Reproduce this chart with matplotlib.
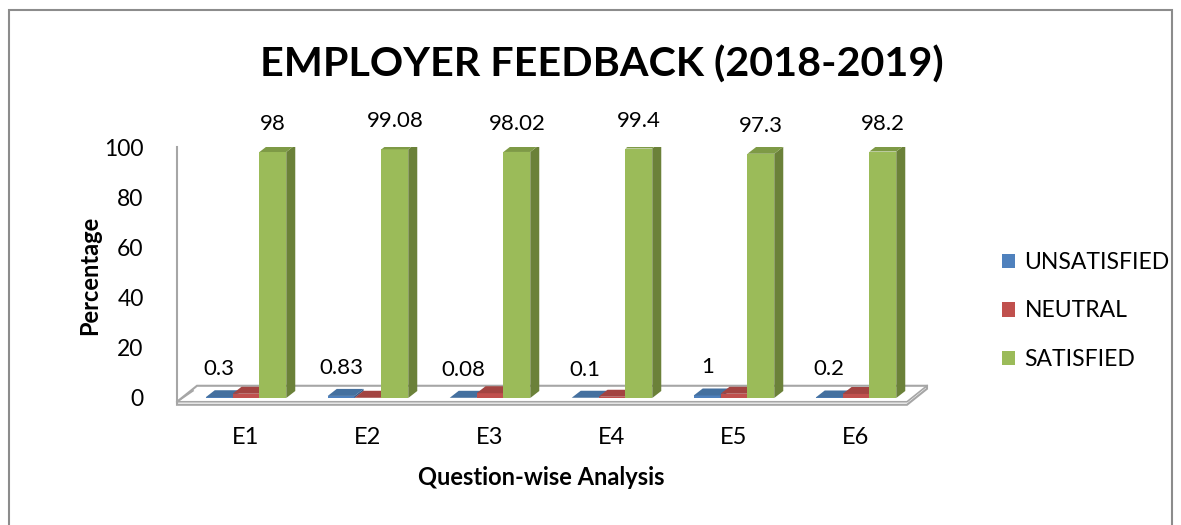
import matplotlib
matplotlib.use("Agg")
import matplotlib.pyplot as plt
from matplotlib.patches import Polygon, Rectangle

plt.rcParams['font.family'] = ['Lato', 'DejaVu Sans']

questions = ["E1", "E2", "E3", "E4", "E5", "E6"]
unsatisfied = [0.3, 0.83, 0.08, 0.1, 1, 0.2]
neutral = [1.7, 0.09, 1.9, 0.5, 1.7, 1.6]
satisfied = [98, 99.08, 98.02, 99.4, 97.3, 98.2]

series = [("UNSATISFIED", unsatisfied, "#4F81BD", "#385D8A", "#44709F"),
          ("NEUTRAL", neutral, "#C0504D", "#8C3836", "#A34441"),
          ("SATISFIED", satisfied, "#9BBB59", "#6B8139", "#7E9A46")]

W, H = 1181, 525
fig = plt.figure(figsize=(W / 100, H / 100), dpi=100)

# frame round the chart
fig.add_artist(Rectangle((9 / W, -0.1), (1172 - 9) / W, 1.1 - 10 / H, transform=fig.transFigure,
                         fill=False, edgecolor="#8c8c8c", linewidth=1.5))

# axes: y=0 at 398 px, y=100 at 147 px, x=0 at 246 px, 122 px per category
px_unit = (398 - 147) / 100
y_lo = -5
ax_bottom = 398 + (-y_lo) * px_unit
ax = fig.add_axes([177 / W, 1 - ax_bottom / H, (930 - 177) / W, (ax_bottom - 147) / H])
ax.set_xlim((177 - 246) / 122, (930 - 246) / 122)
ax.set_ylim(y_lo, 100)

dx = 9 / 122
dy = 7 / px_unit

# floor slab
fx0, fx1 = (177 - 246) / 122, (907 - 246) / 122
fsx = 20 / 122
fy0 = -1.5
fy1 = fy0 + 16 / px_unit
ft = 3 / px_unit
ax.add_patch(Polygon([(fx0, fy0 - ft), (fx1, fy0 - ft), (fx1 + fsx, fy1 - ft), (fx1 + fsx, fy1),
                      (fx0 + fsx, fy1), (fx0, fy0)], closed=True, facecolor="white",
                     edgecolor="#a6a6a6", linewidth=1.5, zorder=1, clip_on=False))
ax.plot([fx0, fx1, fx1 + fsx], [fy0, fy0, fy1], color="#a6a6a6", linewidth=1.2, zorder=1, clip_on=False)

# y axis line
ax.plot([fx0, fx0], [fy0, 100], color="#a6a6a6", linewidth=1.5, zorder=1, clip_on=False)
ax.plot([fx0, fx0 + fsx * 0.8], [fy0, fy1 - 2], color="#a6a6a6", linewidth=1.2, zorder=1, clip_on=False)

width = 0.22
x = list(range(len(questions)))
for k, (name, vals, col, side_col, top_col) in enumerate(series):
    xs = [i + (k - 1) * width for i in x]
    bars = ax.bar(xs, vals, width=width, color=col, label=name, zorder=3 + k, linewidth=0)
    for b in bars:
        x0, x1, h = b.get_x(), b.get_x() + b.get_width(), b.get_height()
        ax.add_patch(Polygon([(x1, 0), (x1 + dx, dy), (x1 + dx, h + dy), (x1, h)], closed=True,
                             facecolor=side_col, linewidth=0, zorder=3 + k))
        ax.add_patch(Polygon([(x0, h), (x1, h), (x1 + dx, h + dy), (x0 + dx, h + dy)], closed=True,
                             facecolor=top_col, linewidth=0, zorder=3 + k))

# data labels
for i in x:
    ax.annotate(f"{satisfied[i]:g}", (i + width, satisfied[i]), xytext=(0, 18),
                textcoords="offset pixels", ha="center", va="bottom", fontsize=16, clip_on=False)
    ax.annotate(f"{unsatisfied[i]:g}", (i - width, unsatisfied[i]), xytext=(0, 18),
                textcoords="offset pixels", ha="center", va="bottom", fontsize=16, clip_on=False)

for s in ax.spines.values():
    s.set_visible(False)
ax.set_yticks([0, 20, 40, 60, 80, 100])
ax.tick_params(axis="y", length=0, labelsize=16.5, pad=24)
ax.set_xticks(x)
ax.set_xticklabels(questions)
ax.tick_params(axis="x", length=0, labelsize=17, pad=12)
ax.set_xlabel("Question-wise Analysis", fontsize=17, fontweight="bold")
ax.xaxis.set_label_coords((541 - 177) / (930 - 177), (ax_bottom - 466) / (ax_bottom - 147))
ax.set_ylabel("Percentage", fontsize=17, fontweight="bold")
ax.yaxis.set_label_coords((101 - 177) / (930 - 177), (ax_bottom - 275) / (ax_bottom - 147))

fig.text(602 / W, 1 - 65 / H, "EMPLOYER FEEDBACK (2018-2019)", ha="center", va="center",
         fontsize=29.7, fontweight="bold")

leg = fig.legend(loc="center left", bbox_to_anchor=(981 / W, 1 - 311 / H), frameon=False,
                 fontsize=16.5, handlelength=0.6, handleheight=0.6, labelspacing=1.2, handletextpad=0.4)

fig.savefig("out.png", dpi=100)
